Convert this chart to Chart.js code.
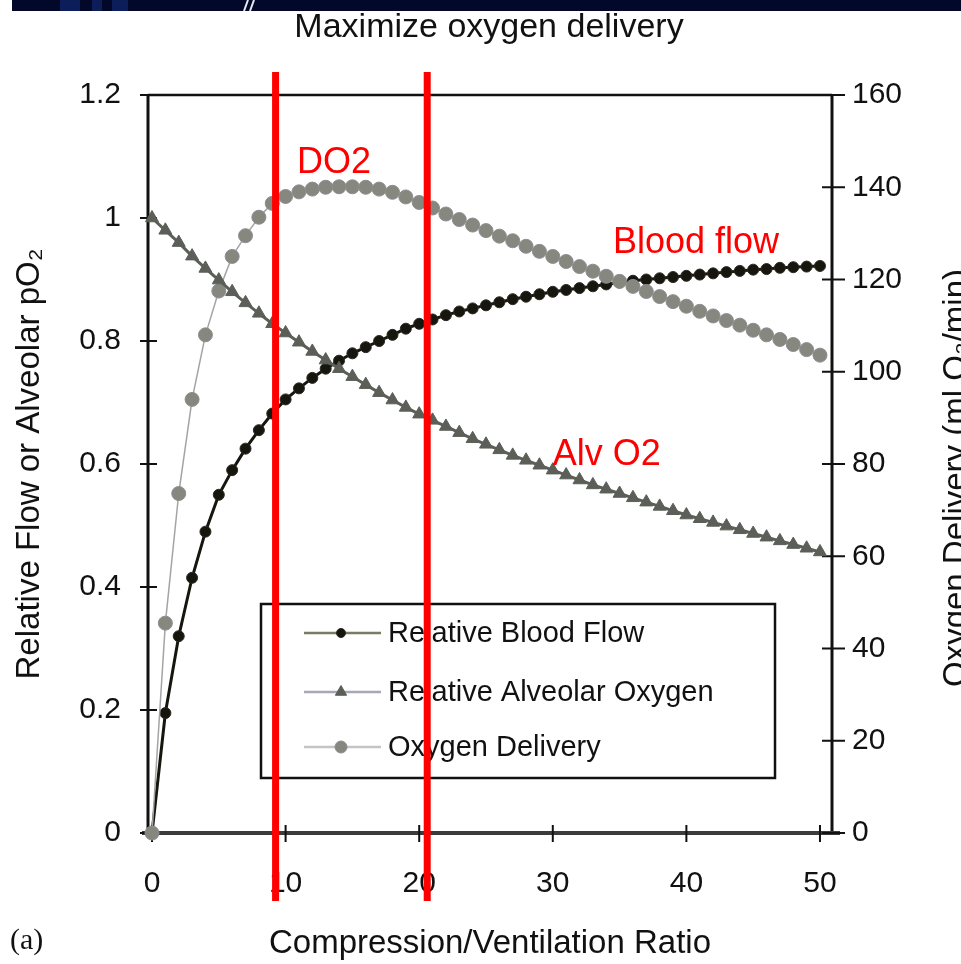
<!DOCTYPE html>
<html>
<head>
<meta charset="utf-8">
<title>Maximize oxygen delivery</title>
<script src="https://cdn.jsdelivr.net/npm/chart.js@4.4.0/dist/chart.umd.min.js"></script>
<style>
  html, body { margin: 0; padding: 0; background: #fff; overflow: hidden; }
</style>
</head>
<body>
<canvas id="o2Chart" width="961" height="964"></canvas>
<script>
// compression/ventilation ratio, one point per step
var ratio = [0, 1, 2, 3, 4, 5, 6, 7, 8, 9, 10, 11, 12, 13, 14, 15, 16, 17, 18, 19, 20,
  21, 22, 23, 24, 25, 26, 27, 28, 29, 30, 31, 32, 33, 34, 35, 36, 37, 38, 39, 40,
  41, 42, 43, 44, 45, 46, 47, 48, 49, 50];

// relative blood flow (left axis)
var bloodFlow = [0, 0.195, 0.32, 0.415, 0.49, 0.55, 0.59, 0.625, 0.655, 0.682, 0.705,
  0.723, 0.74, 0.755, 0.768, 0.78, 0.79, 0.80, 0.81, 0.82, 0.828,
  0.835, 0.842, 0.848, 0.853, 0.858, 0.863, 0.868, 0.872, 0.876, 0.88,
  0.883, 0.886, 0.889, 0.892, 0.895, 0.898, 0.90, 0.902, 0.904, 0.906,
  0.908, 0.91, 0.912, 0.914, 0.916, 0.917, 0.919, 0.92, 0.921, 0.922];

// relative alveolar oxygen (left axis)
var alvOxygen = [1.0, 0.98, 0.96, 0.938, 0.918, 0.899, 0.88, 0.862, 0.845, 0.828, 0.813,
  0.798, 0.783, 0.769, 0.755, 0.742, 0.729, 0.716, 0.704, 0.692, 0.681,
  0.671, 0.661, 0.651, 0.641, 0.632, 0.623, 0.614, 0.606, 0.598, 0.59,
  0.582, 0.574, 0.566, 0.559, 0.552, 0.545, 0.538, 0.531, 0.524, 0.517,
  0.511, 0.505, 0.499, 0.493, 0.487, 0.481, 0.475, 0.469, 0.463, 0.457];

// oxygen delivery, ml O2/min (right axis)
var o2Delivery = [0, 45.5, 73.6, 94, 108, 117.5, 125, 129.5, 133.5, 136.5, 138,
  139, 139.6, 140, 140.1, 140.1, 140, 139.6, 138.9, 137.9, 136.7,
  135.5, 134.2, 133, 131.8, 130.6, 129.4, 128.4, 127.2, 126.1, 125,
  123.9, 122.8, 121.8, 120.7, 119.6, 118.5, 117.4, 116.3, 115.2, 114.2,
  113.1, 112.1, 111.1, 110.1, 109, 108, 107, 105.9, 104.8, 103.6];

var xTicks = [0, 10, 20, 30, 40, 50];
var leftTicks = [0, 0.2, 0.4, 0.6, 0.8, 1, 1.2];
var rightTicks = [0, 20, 40, 60, 80, 100, 120, 140, 160];

// ratios highlighted with red bars
var markedRatios = [9.25, 20.6];

// red curve names, placed in data units of the left axis
var curveNotes = [
  { text: 'DO2', x: 10.85, y: 1.073 },
  { text: 'Blood flow', x: 34.5, y: 0.943 },
  { text: 'Alv O2', x: 30.0, y: 0.598 }
];

var SANS = '"Liberation Sans", Arial, sans-serif';
var INK = '#111';

function pairs(ys) {
  return ratio.map(function (r, i) { return { x: r, y: ys[i] }; });
}
function fixedTicks(list) {
  return function (scale) {
    scale.ticks = list.map(function (v) { return { value: v }; });
  };
}

var decor = {
  id: 'decor',
  beforeDraw: function (chart) {
    var ctx = chart.ctx;
    ctx.save();
    ctx.fillStyle = '#fff';
    ctx.fillRect(0, 0, chart.width, chart.height);
    // slide banner at the very top
    ctx.fillStyle = '#02082a';
    ctx.fillRect(12, 0, chart.width - 12, 11);
    ctx.fillStyle = '#0c1d5a';
    ctx.fillRect(60, 0, 20, 11);
    ctx.fillRect(92, 0, 10, 11);
    ctx.fillRect(112, 0, 16, 11);
    ctx.strokeStyle = '#e8e8f0';
    ctx.lineWidth = 2;
    ctx.beginPath();
    ctx.moveTo(244, 11); ctx.lineTo(248, 0);
    ctx.moveTo(250, 11); ctx.lineTo(254, 0);
    ctx.stroke();
    ctx.restore();
  },
  beforeDatasetsDraw: function (chart) {
    var ctx = chart.ctx, a = chart.chartArea, s = chart.scales;
    ctx.save();
    ctx.strokeStyle = INK;
    ctx.lineWidth = 2.5;
    ctx.beginPath();
    ctx.moveTo(a.left, a.top); ctx.lineTo(a.right, a.top);
    ctx.stroke();
    ctx.lineWidth = 3;
    ctx.beginPath();
    ctx.moveTo(a.left, a.top); ctx.lineTo(a.left, a.bottom);
    ctx.moveTo(a.right, a.top); ctx.lineTo(a.right, a.bottom);
    ctx.stroke();
    ctx.strokeStyle = '#3c3c3c';
    ctx.lineWidth = 4;
    ctx.beginPath();
    ctx.moveTo(a.left - 6, a.bottom); ctx.lineTo(a.right + 8, a.bottom);
    ctx.stroke();
    // tick marks cross the axis lines
    ctx.strokeStyle = INK;
    ctx.lineWidth = 2;
    ctx.beginPath();
    leftTicks.forEach(function (v) {
      var y = s.y.getPixelForValue(v);
      ctx.moveTo(a.left - 8, y); ctx.lineTo(a.left + 9, y);
    });
    rightTicks.forEach(function (v) {
      var y = s.y1.getPixelForValue(v);
      ctx.moveTo(a.right - 10, y); ctx.lineTo(a.right + 13, y);
    });
    xTicks.forEach(function (v) {
      var x = s.x.getPixelForValue(v);
      ctx.moveTo(x, a.bottom - 8); ctx.lineTo(x, a.bottom + 9);
    });
    ctx.stroke();
    ctx.restore();
  },
  afterDatasetsDraw: function (chart) {
    var ctx = chart.ctx, a = chart.chartArea, s = chart.scales;
    ctx.save();

    // legend box inside the plot
    var rows = [633, 692, 747];
    ctx.strokeStyle = INK;
    ctx.lineWidth = 2.5;
    ctx.strokeRect(261, 604, 514, 174);
    chart.data.datasets.forEach(function (ds, i) {
      var y = rows[i];
      ctx.strokeStyle = ds.legendLine;
      ctx.lineWidth = 2.5;
      ctx.beginPath();
      ctx.moveTo(304, y); ctx.lineTo(381, y);
      ctx.stroke();
      ctx.fillStyle = ds.backgroundColor;
      ctx.strokeStyle = ds.pointBorderColor || ds.borderColor;
      ctx.lineWidth = 1;
      Chart.helpers.drawPoint(ctx, { pointStyle: ds.pointStyle, radius: ds.pointRadius - 1, rotation: 0, borderWidth: 1 }, 341, y);
      ctx.fillStyle = INK;
      ctx.font = '29px ' + SANS;
      ctx.textAlign = 'left';
      ctx.textBaseline = 'middle';
      ctx.fillText(ds.label, 388, y + 1);
    });

    // chart title
    ctx.fillStyle = INK;
    ctx.font = '34px ' + SANS;
    ctx.textAlign = 'center';
    ctx.textBaseline = 'alphabetic';
    ctx.fillText('Maximize oxygen delivery', 489, 37);

    // secondary axis title, reading bottom to top
    ctx.save();
    ctx.translate(966, 478);
    ctx.rotate(-Math.PI / 2);
    ctx.font = '33px ' + SANS;
    ctx.fillText('Oxygen Delivery (ml O\u2082/min)', 0, 0);
    ctx.restore();

    // panel letter
    ctx.textAlign = 'left';
    ctx.font = '30px "Liberation Serif", "Times New Roman", serif';
    ctx.fillText('(a)', 10, 949);

    // curve names
    ctx.fillStyle = '#ff0000';
    ctx.font = '36px ' + SANS;
    curveNotes.forEach(function (n) {
      ctx.fillText(n.text, s.x.getPixelForValue(n.x), s.y.getPixelForValue(n.y));
    });

    // red bars at the highlighted ratios
    ctx.strokeStyle = '#ff0000';
    ctx.lineWidth = 7;
    ctx.beginPath();
    markedRatios.forEach(function (r) {
      var x = s.x.getPixelForValue(r);
      ctx.moveTo(x, a.top - 23); ctx.lineTo(x, a.bottom + 68);
    });
    ctx.stroke();

    ctx.restore();
  }
};

var config = {
  type: 'line',
  data: {
    datasets: [{
      label: 'Relative Blood Flow',
      data: pairs(bloodFlow),
      yAxisID: 'y',
      borderColor: '#16160f',
      backgroundColor: '#16160f',
      pointBorderColor: '#2a2a22',
      legendLine: '#7a7a66',
      borderWidth: 3,
      pointStyle: 'circle',
      pointRadius: 5.5,
      pointBorderWidth: 1,
      order: 2
    }, {
      label: 'Relative Alveolar Oxygen',
      data: pairs(alvOxygen),
      yAxisID: 'y',
      borderColor: '#5b5f58',
      backgroundColor: '#5b5f58',
      pointBorderColor: '#5b5f58',
      legendLine: '#a9a6b8',
      borderWidth: 3,
      pointStyle: 'triangle',
      pointRadius: 7.5,
      pointBorderWidth: 1,
      order: 0
    }, {
      label: 'Oxygen Delivery',
      data: pairs(o2Delivery),
      yAxisID: 'y1',
      borderColor: '#a4a4a4',
      backgroundColor: '#86877f',
      pointBorderColor: '#8e8e90',
      legendLine: '#c4c4c8',
      borderWidth: 1.5,
      pointStyle: 'circle',
      pointRadius: 7,
      pointBorderWidth: 1,
      order: 1
    }]
  },
  options: {
    responsive: false,
    animation: false,
    events: [],
    clip: false,
    elements: { line: { tension: 0 } },
    layout: { padding: { top: 95, left: 0, right: 0, bottom: 0 } },
    plugins: {
      legend: { display: false },
      title: { display: false },
      tooltip: { enabled: false }
    },
    scales: {
      x: {
        type: 'linear',
        min: -0.3,
        max: 50.9,
        afterBuildTicks: fixedTicks(xTicks),
        afterFit: function (s) { s.height = 131; },
        grid: { display: false, drawTicks: false },
        border: { display: false },
        ticks: { color: INK, font: { family: SANS, size: 30 }, padding: 33, maxRotation: 0 },
        title: {
          display: true,
          text: 'Compression/Ventilation Ratio',
          color: INK,
          font: { family: SANS, size: 33 },
          padding: 0
        }
      },
      y: {
        position: 'left',
        min: 0,
        max: 1.2,
        afterBuildTicks: fixedTicks(leftTicks),
        afterFit: function (s) { s.width = 148; },
        grid: { display: false, drawTicks: false },
        border: { display: false },
        ticks: {
          color: INK,
          font: { family: SANS, size: 30 },
          padding: 27,
          callback: function (v) { return String(v); }
        },
        title: {
          display: true,
          text: 'Relative Flow or Alveolar pO\u2082',
          color: INK,
          font: { family: SANS, size: 33 },
          padding: { top: 10, bottom: 0 }
        }
      },
      y1: {
        position: 'right',
        min: 0,
        max: 160,
        afterBuildTicks: fixedTicks(rightTicks),
        afterFit: function (s) { s.width = 129; },
        grid: { display: false, drawTicks: false },
        border: { display: false },
        ticks: { color: INK, font: { family: SANS, size: 30 }, padding: 20 }
      }
    }
  },
  plugins: [decor]
};

var ctx = document.getElementById('o2Chart');
var o2Chart = new Chart(ctx, config);
</script>
</body>
</html>
